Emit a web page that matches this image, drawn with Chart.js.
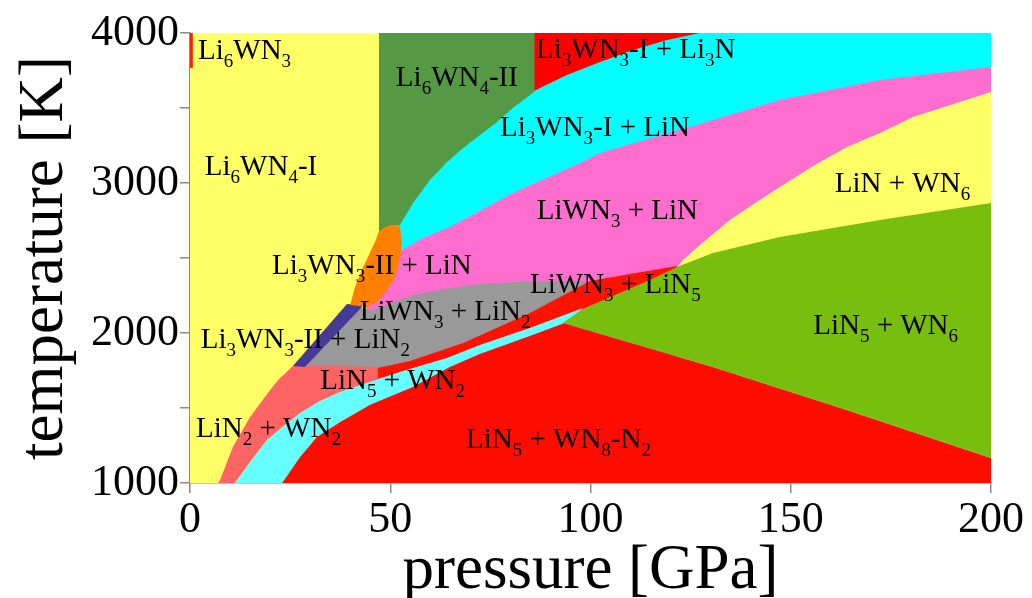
<!DOCTYPE html>
<html><head><meta charset="utf-8">
<script src="https://cdn.jsdelivr.net/npm/chart.js@4.4.1/dist/chart.umd.min.js"></script>
<style>html,body{margin:0;padding:0;background:#fff;overflow:hidden}#wrap{width:1032px;height:598px}canvas{display:block}</style>
</head><body>
<div id="wrap"><canvas id="c" width="1032" height="598"></canvas></div>
<script>
// ---- axis ticks ----
const xTickValues = [0, 50, 100, 150, 200];
const xTickLabels = ['0', '50', '100', '150', '200'];
const yTickValues = [1000, 1500, 2000, 2500, 3000, 3500, 4000];
const yTickLabels = ['1000', '', '2000', '', '3000', '', '4000'];

// ---- phase regions: [pressure GPa, temperature K] vertices ----
const li6wn4I = [[0,1000],[200,1000],[200,4000],[0,4000]];
const li3wn3I_LiN = [[47.2,1000],[47.2,4000],[200,4000],[200,1000]];
const li6wn4II = [[47.2,4000],[86.1,4000],[86.1,3613],[84.9,3587],[80.6,3500],[76.7,3407],[72.4,3320],[68.2,3233],[64.2,3140],[59.9,3020],[55.7,2867],[52.4,2720],[49.9,2713],[47.2,2673]];
const li3wn3I_Li3N = [[86.0,4000],[127.3,4000],[119.1,3953],[110.6,3887],[102.4,3807],[94.1,3720],[86.0,3615]];
const liwn3_LiN = [[52.9,2553],[58.2,2633],[64.9,2707],[80.6,2933],[97.4,3133],[102.4,3200],[124.8,3373],[147.3,3553],[172.3,3687],[200,3773],[200,1000],[44,1000],[44,2200],[50,2500]];
const liN_WN6 = [[121.6,2440],[123.1,2487],[127.3,2587],[134.8,2753],[141.1,2867],[147.3,2973],[155.6,3113],[164.0,3240],[172.3,3333],[180.5,3440],[200,3607],[200,1000],[121.6,1000]];
const liwn3_LiN2 = [[26.2,1767],[40.0,2180],[44.2,2160],[45.7,2153],[55.7,2253],[64.9,2300],[72.4,2327],[85.6,2345],[99.9,2347],[99.9,2200],[84.9,2133],[68.2,1933],[54.9,1807],[47.4,1767]];
const liN2_WN2 = [[25.7,1780],[22.0,1687],[20.0,1620],[15.0,1440],[10.7,1240],[7.5,1020],[7.0,1000],[11.2,1000],[15.0,1140],[19.2,1287],[23.7,1387],[27.5,1467],[32.5,1547],[37.5,1607],[44.9,1673],[52.4,1740],[47.4,1773],[35.0,1780]];
const liwn3_LiN5 = [[46.9,1767],[54.9,1813],[68.2,1933],[84.9,2133],[99.9,2347],[109.9,2393],[121.6,2447],[121.6,2433],[114.9,2353],[107.4,2267],[98.1,2160],[84.9,2033],[72.4,1920],[64.2,1833],[52.4,1740],[46.9,1695]];
const liN5_WN2 = [[11.2,1000],[15.0,1140],[19.2,1287],[23.7,1387],[27.5,1467],[32.5,1547],[37.5,1607],[44.9,1673],[52.4,1740],[64.2,1833],[72.4,1920],[84.9,2033],[98.1,2167],[93.6,2067],[84.9,1980],[72.4,1860],[64.9,1773],[55.7,1640],[44.9,1520],[37.5,1407],[31.7,1307],[27.5,1173],[23.0,1000]];
const liN5_WN8N2 = [[23.0,1000],[27.5,1173],[31.7,1307],[37.5,1407],[44.9,1520],[55.7,1640],[64.9,1773],[72.4,1860],[84.9,1980],[93.6,2067],[97.4,2033],[130.6,1773],[164.0,1487],[200,1167],[200,1000]];
const liN5_WN6 = [[93.1,2067],[98.1,2160],[107.4,2267],[114.9,2353],[121.6,2440],[130.6,2533],[147.3,2640],[172.3,2753],[200,2867],[200,1167],[164.0,1487],[130.6,1773],[97.4,2033]];
const li3wn3II_LiN2 = [[25.7,1780],[39.2,2193],[43.4,2187],[28.7,1773]];
const li3wn3II_LiN = [[47.2,2680],[49.2,2713],[50.7,2722],[52.4,2715],[52.9,2600],[52.4,2487],[51.2,2373],[49.2,2287],[46.7,2207],[44.2,2173],[40.0,2187],[41.2,2307],[42.9,2420],[44.9,2533],[46.4,2620]];
const li6wn3 = [[0,3767],[0.7,3767],[0.7,4000],[0,4000]];

// bottom layer first
const layers = [
  {name:'Li6WN4-I', pts:li6wn4I, color:'#FFFF66'},
  {name:'Li3WN3-I + LiN', pts:li3wn3I_LiN, color:'#00FFFF'},
  {name:'Li6WN4-II', pts:li6wn4II, color:'#559944'},
  {name:'Li3WN3-I + Li3N', pts:li3wn3I_Li3N, color:'#FF0000'},
  {name:'LiWN3 + LiN', pts:liwn3_LiN, color:'#FF6DCE'},
  {name:'LiN + WN6', pts:liN_WN6, color:'#FFFF66'},
  {name:'LiWN3 + LiN2', pts:liwn3_LiN2, color:'#999999'},
  {name:'LiN2 + WN2', pts:liN2_WN2, color:'#FF6464'},
  {name:'LiWN3 + LiN5', pts:liwn3_LiN5, color:'#FF1200'},
  {name:'LiN5 + WN2', pts:liN5_WN2, color:'#66FFFF'},
  {name:'LiN5 + WN8-N2', pts:liN5_WN8N2, color:'#FF0C00'},
  {name:'LiN5 + WN6', pts:liN5_WN6, color:'#78BE0F'},
  {name:'Li3WN3-II + LiN2', pts:li3wn3II_LiN2, color:'#463A96'},
  {name:'Li3WN3-II + LiN', pts:li3wn3II_LiN, color:'#FF8000'},
  {name:'Li6WN3', pts:li6wn3, color:'#FF2000'}
];

// ---- region labels (text parts: [text, isSubscript]) ----
const phaseLabels = [
  {p:2.0, t:3825, parts:[['Li'],['6',1],['WN'],['3',1]]},
  {p:51.4, t:3647, parts:[['Li'],['6',1],['WN'],['4',1],['-II']]},
  {p:86.4, t:3833, parts:[['Li'],['3',1],['WN'],['3',1],['-I + Li'],['3',1],['N']]},
  {p:77.4, t:3313, parts:[['Li'],['3',1],['WN'],['3',1],['-I + LiN']]},
  {p:3.7, t:3053, parts:[['Li'],['6',1],['WN'],['4',1],['-I']]},
  {p:161.0, t:2942, parts:[['LiN + WN'],['6',1]]},
  {p:86.6, t:2760, parts:[['LiWN'],['3',1],[' + LiN']]},
  {p:20.5, t:2393, parts:[['Li'],['3',1],['WN'],['3',1],['-II + LiN']]},
  {p:84.9, t:2267, parts:[['LiWN'],['3',1],[' + LiN'],['5',1]]},
  {p:42.4, t:2087, parts:[['LiWN'],['3',1],[' + LiN'],['2',1]]},
  {p:155.6, t:1993, parts:[['LiN'],['5',1],[' + WN'],['6',1]]},
  {p:2.7, t:1900, parts:[['Li'],['3',1],['WN'],['3',1],['-II + LiN'],['2',1]]},
  {p:32.5, t:1627, parts:[['LiN'],['5',1],[' + WN'],['2',1]]},
  {p:1.5, t:1307, parts:[['LiN'],['2',1],[' + WN'],['2',1]]},
  {p:68.9, t:1233, parts:[['LiN'],['5',1],[' + WN'],['8',1],['-N'],['2',1]]}
];

const SERIF = '"Liberation Serif", "Times New Roman", serif';

const labelPlugin = {
  id: 'phaseLabels',
  afterDatasetsDraw(chart) {
    const {ctx} = chart;
    const xs = chart.scales.x, ys = chart.scales.y;
    ctx.save();
    ctx.fillStyle = '#000';
    ctx.textAlign = 'left';
    ctx.textBaseline = 'alphabetic';
    for (const l of phaseLabels) {
      let px = xs.getPixelForValue(l.p);
      const py = ys.getPixelForValue(l.t);
      for (const [txt, sub] of l.parts) {
        ctx.font = (sub ? '19px ' : '29px ') + SERIF;
        ctx.fillText(txt, px, py + (sub ? 8 : 0));
        px += ctx.measureText(txt).width;
      }
    }
    ctx.restore();
  }
};

const axisColor = '#8a8a8a';

new Chart(document.getElementById('c'), {
  type: 'line',
  data: {
    datasets: layers.map((L, i) => ({
      label: L.name,
      data: L.pts.map(([p, t]) => ({x: p, y: t})),
      backgroundColor: L.color,
      borderColor: L.color,
      borderWidth: 0,
      fill: 'shape',
      pointRadius: 0,
      pointHoverRadius: 0,
      tension: 0,
      order: layers.length - i
    }))
  },
  options: {
    responsive: false,
    animation: false,
    devicePixelRatio: 1,
    layout: {padding: {top: 33, right: 41, left: 0, bottom: 0}},
    plugins: {legend: {display: false}, tooltip: {enabled: false}},
    events: [],
    scales: {
      x: {
        type: 'linear', min: 0, max: 200,
        afterBuildTicks(s) { s.ticks = xTickValues.map(v => ({value: v})); },
        afterFit(s) { s.height = 115; },
        ticks: {
          color: '#000', padding: 1, maxRotation: 0, autoSkip: false,
          font: {family: SERIF, size: 44},
          callback(v) { const i = xTickValues.indexOf(v); return i >= 0 ? xTickLabels[i] : ''; }
        },
        grid: {display: true, drawOnChartArea: false, drawTicks: true, tickLength: 10, color: axisColor, lineWidth: 1.5},
        border: {display: true, color: axisColor, width: 1.5},
        title: {display: true, text: 'pressure [GPa]', color: '#000', padding: {top: 0, bottom: 0},
                font: {family: SERIF, size: 63, lineHeight: 0.85}}
      },
      y: {
        type: 'linear', min: 1000, max: 4000,
        afterBuildTicks(s) { s.ticks = yTickValues.map(v => ({value: v})); },
        afterFit(s) { s.width = 190; },
        ticks: {
          color: '#000', padding: 1, autoSkip: false,
          font: {family: SERIF, size: 44},
          callback(v) { const i = yTickValues.indexOf(v); return i >= 0 ? yTickLabels[i] : ''; }
        },
        grid: {display: true, drawOnChartArea: false, drawTicks: true, tickLength: 10, color: axisColor, lineWidth: 1.5},
        border: {display: true, color: axisColor, width: 1.5},
        title: {display: true, text: 'temperature [K]', color: '#000', padding: {top: 8, bottom: 0},
                font: {family: SERIF, size: 63, lineHeight: 1.2}}
      }
    }
  },
  plugins: [labelPlugin]
});
</script>
</body></html>
